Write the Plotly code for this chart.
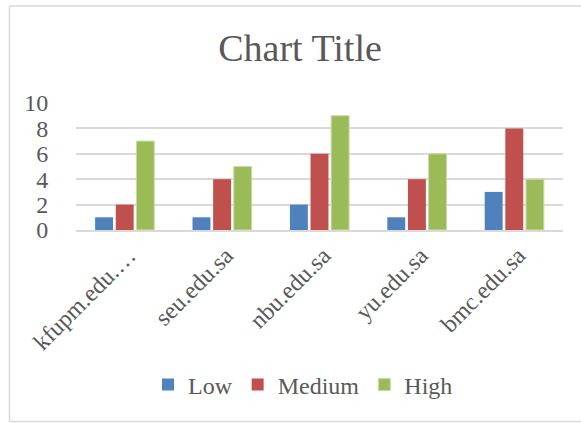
import plotly.graph_objects as go

categories = ["kfupm.edu.…", "seu.edu.sa", "nbu.edu.sa", "yu.edu.sa", "bmc.edu.sa"]
low = [1, 1, 2, 1, 3]
medium = [2, 4, 6, 4, 8]
high = [7, 5, 9, 6, 4]

FONT = "Liberation Serif"
TXT = "#595959"

L, R, T, B = 76, 18, 103, 193
W, H = 581, 423
pw, ph = W - L - R, H - T - B

def px(x):
    return (x - L) / pw

def py(y):
    return (H - B - y) / ph

fig = go.Figure()
fig.add_bar(name="Low", x=categories, y=low, marker=dict(color="#4f81bd", line=dict(width=0)))
fig.add_bar(name="Medium", x=categories, y=medium, marker=dict(color="#c0504d", line=dict(width=0)))
fig.add_bar(name="High", x=categories, y=high, marker=dict(color="#9bbb59", line=dict(color="#c8dca8", width=1)))

fig.update_layout(
    width=W, height=H,
    margin=dict(l=L, r=R, t=T, b=B),
    paper_bgcolor="white", plot_bgcolor="white",
    barmode="group", bargap=0.365, bargroupgap=0.13,
    font=dict(family=FONT, color=TXT),
    title=dict(text="Chart Title", x=300 / W, xanchor="center", y=1 - 48 / H, yanchor="middle",
               font=dict(family=FONT, size=38, color=TXT)),
    showlegend=True,
    legend=dict(orientation="h", x=px(303), xanchor="center", y=py(385), yanchor="middle",
                font=dict(family=FONT, size=24, color=TXT), itemwidth=30, traceorder="normal"),
    xaxis=dict(tickangle=-45, tickfont=dict(family=FONT, size=24, color=TXT), showgrid=False,
               showline=True, linecolor="#d9d9d9", linewidth=2, ticks="",
               ticklabelstandoff=0, ticklabelshift=4),
    yaxis=dict(range=[0, 10], dtick=2, tickfont=dict(family=FONT, size=24, color=TXT),
               gridcolor="#d9d9d9", gridwidth=2, zeroline=False, showline=False,
               ticks="outside", ticklen=22, tickwidth=1, tickcolor="white"),
    shapes=[
        dict(type="line", xref="paper", yref="paper", x0=px(9.5), x1=px(600), y0=py(6), y1=py(6),
             line=dict(color="#d9d9d9", width=1.5)),
        dict(type="line", xref="paper", yref="paper", x0=px(9.5), x1=px(9.5), y0=py(6), y1=py(421.5),
             line=dict(color="#d9d9d9", width=1.5)),
        dict(type="line", xref="paper", yref="paper", x0=px(9.5), x1=px(600), y0=py(421.5), y1=py(421.5),
             line=dict(color="#d9d9d9", width=1.5)),
    ],
)

fig.write_html("out.html")
